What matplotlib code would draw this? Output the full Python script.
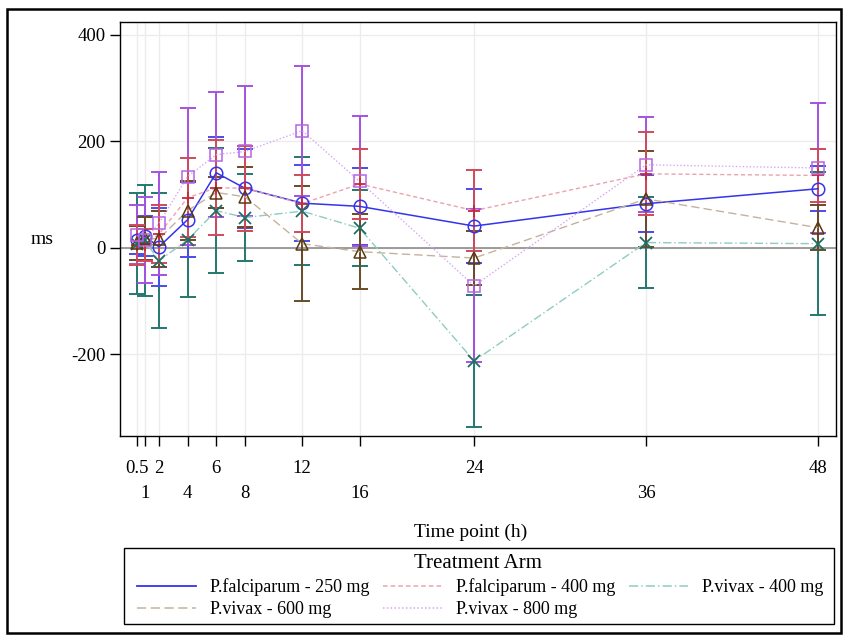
"""
qtc_change.py
mean change in QTc by time point and treatment arm
"""
import matplotlib
matplotlib.use('Agg')
import matplotlib.pyplot as plt
from matplotlib.lines import Line2D
from matplotlib.patches import Rectangle

plt.rcParams['font.family'] = ['Liberation Serif', 'DejaVu Serif']
plt.rcParams['axes.unicode_minus'] = False

times = [0.5, 1, 2, 4, 6, 8, 12, 16, 24, 36, 48]
top_row = [0.5, 2, 6, 12, 24, 48]
bottom_row = [1, 4, 8, 16, 36]

arms = ['P.falciparum - 250 mg', 'P.falciparum - 400 mg', 'P.vivax - 400 mg',
        'P.vivax - 600 mg', 'P.vivax - 800 mg']

pf250_mean = [15, 22, 2, 53, 141, 112, 84, 78, 41, 83, 111]
pf250_err = [27, 37, 73, 70, 67, 74, 71, 72, 70, 53, 42]

pf400_mean = [5, 5, 26, 94, 113, 112, 83, 120, 70, 139, 136]
pf400_err = [38, 30, 54, 74, 89, 80, 53, 65, 76, 78, 50]

pv400_mean = [8, 14, -24, 15, 70, 57, 69, 37, -212, 10, 8]
pv400_err = [95, 104, 127, 108, 118, 82, 102, 71, 124, 85, 134]

pv600_mean = [10, 18, 17, 70, 104, 96, 8, -7, -19, 92, 38]
pv600_err = [32, 40, 52, 56, 30, 56, 108, 70, 51, 90, 42]

pv800_mean = [25, 15, 46, 134, 175, 181, 220, 125, -71, 156, 150]
pv800_err = [55, 80, 97, 129, 117, 122, 122, 122, 144, 89, 122]

# name: (mean, err, line colour, line style, bar colour, marker, marker colour, z)
styles = {
    arms[0]: (pf250_mean, pf250_err, '#3434ec', '-', '#4b4bee', 'o', '#3434ec', 3),
    arms[1]: (pf400_mean, pf400_err, '#eba3ae', (0, (3, 2)), '#cf4a5c', '+', '#c8283e', 6),
    arms[2]: (pv400_mean, pv400_err, '#8fcbc3', (0, (6, 2, 1, 2)), '#24786e', 'x', '#1d6e64', 2),
    arms[3]: (pv600_mean, pv600_err, '#c6b29c', (0, (6, 3)), '#6b4a26', '^', '#5a3a12', 5),
    arms[4]: (pv800_mean, pv800_err, '#d8a6f2', (0, (1, 1.5)), '#a452e0', 's', '#b466e6', 4),
}

fig = plt.figure(figsize=(8.43, 6.37), dpi=100)
ax = fig.add_axes([120/843, 1-436/637, 716/843, 414/637])

for name, (m, e, lc, ls, bc, mk, mc, z) in styles.items():
    ax.errorbar(times, m, yerr=e, fmt='none', ecolor=bc, elinewidth=1.4,
                capsize=5.5, capthick=1.4, zorder=z)
for name, (m, e, lc, ls, bc, mk, mc, z) in styles.items():
    ax.plot(times, m, color=lc, linestyle=ls, linewidth=1.1 if ls == '-' else 1.0, zorder=7)
for name, (m, e, lc, ls, bc, mk, mc, z) in styles.items():
    if mk in ('+', 'x'):
        ax.plot(times, m, linestyle='none', marker=mk, markersize=9, color=mc,
                markeredgewidth=1.3, zorder=8)
    else:
        ax.plot(times, m, linestyle='none', marker=mk, markersize=9, markerfacecolor='none',
                markeredgecolor=mc, markeredgewidth=1.1, zorder=8)

ax.axhline(0, color='#8c8c8c', linewidth=1.2, zorder=1)

ax.set_xlim(-0.72, 49.26)
ax.set_ylim(-353, 424)
ax.set_yticks([-200, 0, 200, 400])
ax.set_xticks(top_row)
ax.set_xticklabels([f'{t:g}' for t in top_row])
ax.set_xticks(bottom_row, minor=True)
ax.set_xticklabels([f'{t:g}' for t in bottom_row], minor=True)
ax.tick_params(axis='both', which='both', direction='out', length=7, width=1,
               labelsize=13.5)
ax.tick_params(axis='x', which='major', pad=10)
ax.tick_params(axis='x', which='minor', pad=28)
ax.grid(True, which='both', color='#ececec', linewidth=1, zorder=0)
ax.set_axisbelow(True)
for sp in ax.spines.values():
    sp.set_linewidth(1)

ax.set_xlabel('Time point (h)', fontsize=14)
ax.xaxis.set_label_coords(0.49, -0.213)
ax.set_ylabel('ms', fontsize=14, rotation=0, va='center', ha='center')
ax.yaxis.set_label_coords(-0.109, 0.475)

# legend drawn without frame or title, both added separately
order = [0, 3, 1, 4, 2]
handles = [Line2D([], [], color=styles[arms[i]][2], linestyle=styles[arms[i]][3],
                  linewidth=1.3 if i == 0 else 1.1) for i in order]
fig.legend(handles, [arms[i] for i in order], ncol=3, loc='center',
           bbox_to_anchor=(480/843, 1-598.5/637), frameon=False, fontsize=13,
           handlelength=3.3, handletextpad=0.75, columnspacing=0.75,
           labelspacing=0.28, borderpad=0.1)
fig.text(478/843, 1-564/637, 'Treatment Arm', fontsize=15, ha='center', va='center')
fig.patches.append(Rectangle((124/843, 1-624/637), 710/843, 76/637, transform=fig.transFigure,
                             fill=False, edgecolor='black', linewidth=1))
fig.patches.append(Rectangle((7/843, 1-633/637), 834/843, 624/637, transform=fig.transFigure,
                             fill=False, edgecolor='black', linewidth=1.8))

fig.savefig('out.png', dpi=100)
